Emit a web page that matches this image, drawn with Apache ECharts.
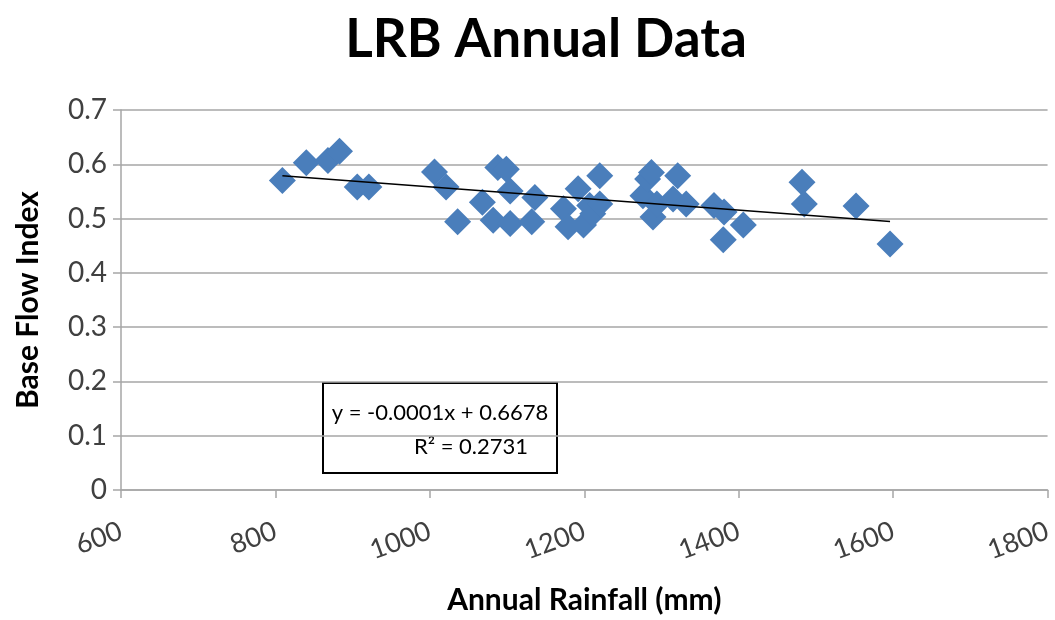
<!DOCTYPE html>
<html>
<head>
<meta charset="utf-8">
<script src="https://cdn.jsdelivr.net/npm/echarts@6/dist/echarts.min.js"></script>
<style>
  html, body { margin: 0; padding: 0; background: #fff; }
  #chart { width: 1055px; height: 620px; }
</style>
</head>
<body>
<div id="chart"></div>
<script>
// annual rainfall (mm) vs base flow index
const rainfall = [809, 840, 868, 883, 906, 921, 1006, 1021, 1036, 1068,
  1082, 1088, 1099, 1104, 1104, 1132, 1136, 1173, 1179, 1192,
  1199, 1207, 1211, 1220, 1220, 1276, 1282, 1287, 1289, 1294,
  1321, 1315, 1332, 1368, 1381, 1380, 1406, 1482, 1485, 1552, 1596];
const bfi = [0.570, 0.603, 0.607, 0.624, 0.558, 0.558, 0.586, 0.558, 0.494, 0.530,
  0.497, 0.594, 0.591, 0.551, 0.491, 0.494, 0.539, 0.518, 0.485, 0.555,
  0.488, 0.524, 0.509, 0.579, 0.527, 0.542, 0.573, 0.585, 0.503, 0.527,
  0.579, 0.536, 0.527, 0.524, 0.512, 0.461, 0.488, 0.567, 0.527, 0.523, 0.453];
const eqLines = ['y = -0.0001x + 0.6678', 'R² = 0.2731'];

const points = rainfall.map((x, i) => [x, bfi[i]]);

// least squares fit for the trendline
const n = rainfall.length;
const mx = rainfall.reduce((a, b) => a + b, 0) / n;
const my = bfi.reduce((a, b) => a + b, 0) / n;
let sxy = 0, sxx = 0;
rainfall.forEach((x, i) => { sxy += (x - mx) * (bfi[i] - my); sxx += (x - mx) * (x - mx); });
const slope = sxy / sxx;
const icpt = my - slope * mx;
const xMin = Math.min(...rainfall), xMax = Math.max(...rainfall);
const trend = [[xMin, icpt + slope * xMin], [xMax, icpt + slope * xMax]];

const font = 'Lato, "Open Sans", sans-serif';
const chart = echarts.init(document.getElementById('chart'));
chart.setOption({
  animation: false,
  title: {
    text: 'LRB Annual Data',
    left: 541,
    textAlign: 'center',
    top: 8,
    textStyle: { fontFamily: font, fontSize: 53, fontWeight: 'bold', color: '#000' }
  },
  grid: { left: 121, right: 2, top: 110, bottom: 125 },
  xAxis: {
    type: 'value',
    min: 600, max: 1800, interval: 200,
    name: 'Annual Rainfall (mm)',
    nameLocation: 'middle',
    nameGap: 95,
    nameTextStyle: { fontFamily: font, fontSize: 30, fontWeight: 'bold', color: '#000' },
    axisLine: { lineStyle: { color: '#a6a6a6', width: 1.5 } },
    axisTick: { show: true, length: 8, lineStyle: { color: '#a6a6a6', width: 1.5 } },
    axisLabel: { rotate: 20, fontFamily: font, fontSize: 27, color: '#404040', margin: 40,
                 formatter: v => String(v) },
    splitLine: { show: false }
  },
  yAxis: {
    type: 'value',
    min: 0, max: 0.7, interval: 0.1,
    name: 'Base Flow Index',
    nameLocation: 'middle',
    nameGap: 78,
    nameTextStyle: { fontFamily: font, fontSize: 30, fontWeight: 'bold', color: '#000' },
    axisLine: { show: true, lineStyle: { color: '#a6a6a6', width: 1.5 } },
    axisTick: { show: true, length: 8, lineStyle: { color: '#a6a6a6', width: 1.5 } },
    axisLabel: { fontFamily: font, fontSize: 28, color: '#404040', margin: 14 },
    splitLine: { lineStyle: { color: '#a6a6a6', width: 1.5 } }
  },
  series: [
    {
      type: 'scatter',
      data: points,
      symbol: 'diamond',
      symbolSize: 27,
      itemStyle: { color: '#4a7ebb', opacity: 1 }
    },
    {
      type: 'line',
      data: trend,
      symbol: 'none',
      lineStyle: { color: '#000', width: 1.5 },
      z: 3
    }
  ],
  graphic: [
    {
      type: 'group',
      left: 322, top: 382,
      children: [
        { type: 'rect', shape: { x: 0, y: 0, width: 234, height: 90 },
          style: { fill: '#fff', stroke: '#000', lineWidth: 2 } },
        { type: 'text', x: 117, y: 30,
          style: { text: eqLines[0], fontFamily: font, fontSize: 22, fill: '#000',
                   textAlign: 'center', textVerticalAlign: 'middle' } },
        { type: 'text', x: 148, y: 64,
          style: { text: eqLines[1], fontFamily: font, fontSize: 22, fill: '#000',
                   textAlign: 'center', textVerticalAlign: 'middle' } }
      ]
    }
  ]
});
</script>
</body>
</html>
